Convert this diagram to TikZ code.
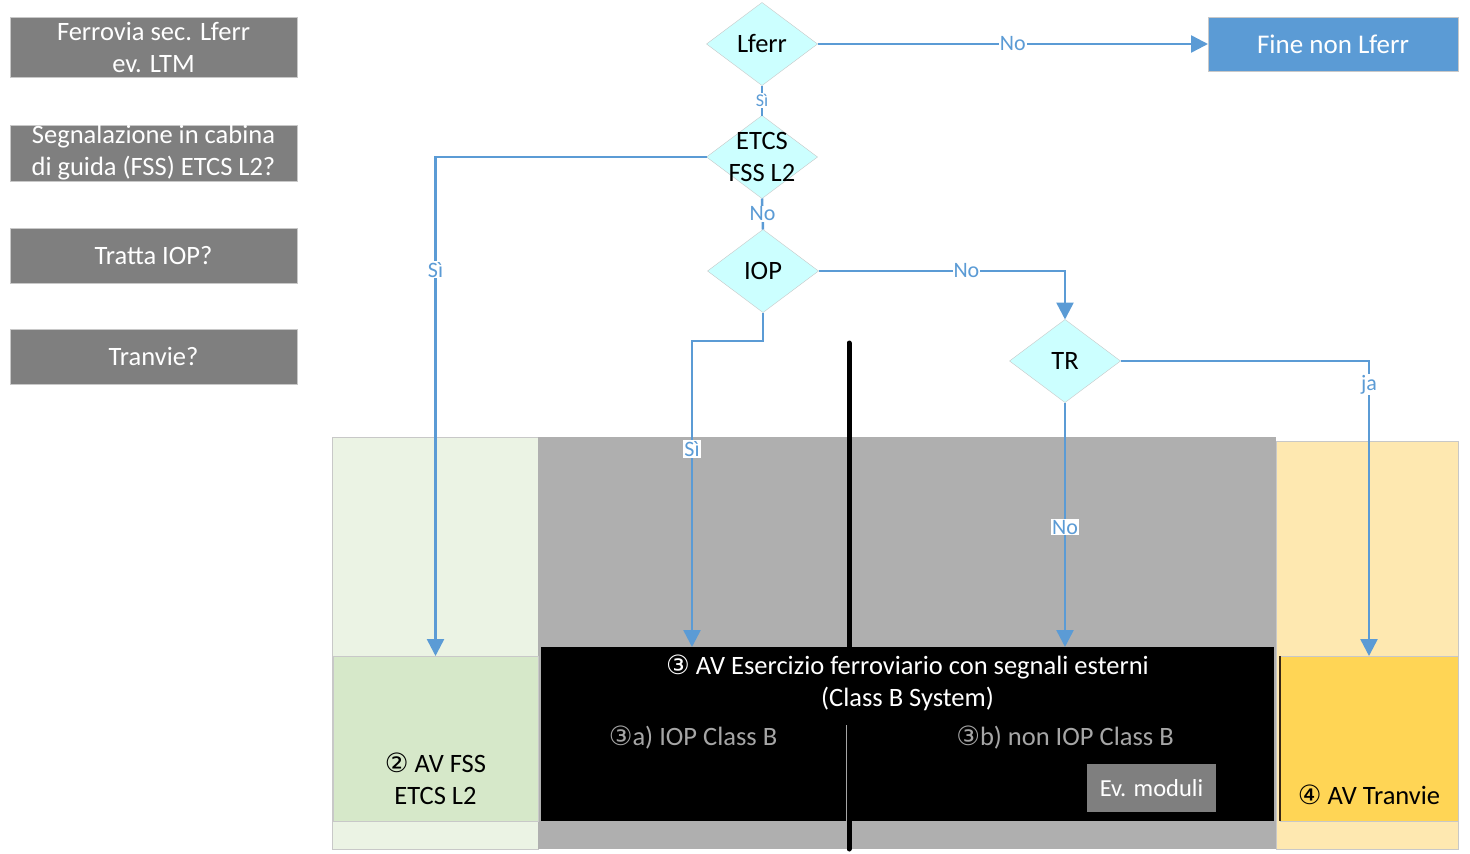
\documentclass[tikz,border=0pt]{standalone}
\usepackage{fontspec}
\setmainfont{Carlito}
\newfontfamily\circfont{DejaVu Sans}
\usetikzlibrary{
    arrows.meta,
    positioning,
    shapes.geometric
}
\definecolor{flowblue}{HTML}{5B9BD5}
\definecolor{qgray}{HTML}{7F7F7F}
\definecolor{rimgray}{HTML}{C8C8C8}
\definecolor{diafill}{HTML}{CCFFFF}
\definecolor{palegreen}{HTML}{EBF3E4}
\definecolor{fssgreen}{HTML}{D6E8C9}
\definecolor{colgray}{HTML}{AFAFAF}
\definecolor{paleyellow}{HTML}{FEE8B0}
\definecolor{tramyellow}{HTML}{FFD555}
\definecolor{subgray}{HTML}{A6A6A6}
\tikzset{
    every picture/.style = {
        > = {Triangle[length=17pt, width=17pt]}
    },
    bigfont/.style = {font = \fontsize{26.5}{32}\selectfont},
    question/.style = {
        bigfont,
        rectangle,
        draw = rimgray,
        fill = qgray,
        text = white,
        align = center,
        minimum width = 287pt,
        inner sep = 0pt
    },
    decision/.style = {
        diamond,
        draw = rimgray,
        fill = diafill,
        minimum width = 111pt,
        minimum height = 83pt,
        inner sep = 0pt,
        outer sep = 0pt
    },
    dtext/.style = {bigfont, align = center, inner sep = 0pt},
    result/.style = {
        rectangle,
        draw = rimgray,
        inner sep = 0pt,
        outer sep = 0pt
    },
    boxtext/.style = {bigfont, align = center, inner sep = 2pt},
    flow/.style = {draw = flowblue, line width = 2.5pt},
    elabel/.style = {
        font = \fontsize{22}{24}\selectfont,
        text = flowblue,
        fill = white,
        inner sep = 1pt
    }
}

\begin{document}
\begin{tikzpicture}[x = 1pt, y = -1pt]
    \useasboundingbox (0,0) rectangle (1470,854);

    % questions on the left
    \node[question, minimum height = 60pt] (q1) at (153.5,47) {Ferrovia sec. Lferr\\ev. LTM};
    \node[question, minimum height = 56pt] (q2) at (153.5,153) {Segnalazione in cabina\\di guida (FSS) ETCS L2?};
    \node[question, minimum height = 55pt] (q3) at (153.5,255.5) {Tratta IOP?};
    \node[question, minimum height = 55pt] (q4) at (153.5,356.5) {Tranvie?};

    % columns
    \fill[palegreen, draw = rimgray] (332,437) rectangle (538,849);
    \fill[colgray] (538,437) rectangle (1276,849);
    \fill[paleyellow, draw = rimgray] (1276,441) rectangle (1458,849);
    \draw[line width = 5pt, line cap = round] (849,343) -- (849,849);

    % decisions
    \node[decision, label = {[dtext]center:Lferr}] (lferr) at (762,44) {};
    \node[decision, label = {[dtext]center:ETCS\\FSS L2}] (etcs) at (762,157) {};
    \node[decision, label = {[dtext]center:IOP}] (iop) at (763,271) {};
    \node[decision, label = {[dtext]center:TR}] (tr) at (1065,361) {};

    \node[result, fill = flowblue, minimum width = 250pt, minimum height = 54pt,
          font = \fontsize{27}{30}\selectfont, text = white] (fine) at (1333,44) {Fine non Lferr};

    % results
    \node[result, fill = fssgreen, minimum width = 205pt, minimum height = 165pt] (fss) at (435.5,738.5) {};
    \node[boxtext, above = 14pt of fss.south] (fsstext) {{\circfont ②} AV FSS\\ETCS L2};

    \node[result, draw = none, fill = black, minimum width = 733pt, minimum height = 174pt] (classb) at (907.5,734) {};
    \node[boxtext, text = white, below = 6pt of classb.north] (classbtext)
        {{\circfont ③} AV Esercizio ferroviario con segnali esterni\\(Class B System)};
    \coordinate (divtop) at (846,725);
    \draw[subgray, line width = 0.8pt] (divtop) -- (divtop |- classb.south);
    \node[boxtext, text = subgray] (iopb) at (693,738) {{\circfont ③}a) IOP Class B};
    \node[boxtext, text = subgray] (noniopb) at (1065,738) {{\circfont ③}b) non IOP Class B};
    \node[result, draw = none, fill = qgray, minimum width = 129pt, minimum height = 48pt,
          font = \fontsize{24.5}{26}\selectfont, text = white] (moduli) at (1151.5,788) {Ev. moduli};

    \node[result, fill = tramyellow, minimum width = 178pt, minimum height = 165pt] (tram) at (1369,738.5) {};
    \draw[black!70!brown, line width = 2pt] (tram.north west) -- (tram.south west);
    \node[boxtext, above = 14pt of tram.south] (tramtext) {{\circfont ④} AV Tranvie};

    % connectors
    \coordinate (iopbend) at (692,341);
    \draw[flow, ->] (lferr.east) -- node[elabel] {No} (fine.west);
    \draw[flow] (lferr.south) -- node[elabel, font = \fontsize{18}{20}\selectfont] {Sì} (etcs.north);
    \draw[flow] (etcs.south) -- node[elabel] {No} (iop.north);
    \draw[flow, ->] (etcs.west) -| node[elabel, pos = 0.613] {Sì} (fss.north);
    \draw[flow, ->] (iop.east) -| node[elabel, pos = 0.3] {No} (tr.north);
    \draw[flow, ->] (iop.south) |- (iopbend) -- node[elabel, pos = 0.353] {Sì} (iopbend |- classb.north);
    \draw[flow, ->] (tr.east) -| node[elabel, pos = 0.54] {ja} (tram.north);
    \draw[flow, ->] (tr.south) -- node[elabel, pos = 0.51] {No} (tr.south |- classb.north);
\end{tikzpicture}
\end{document}
